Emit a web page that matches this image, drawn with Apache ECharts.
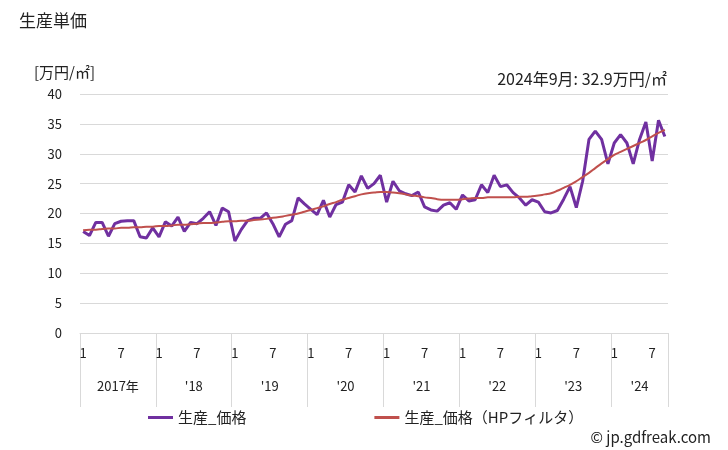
<!DOCTYPE html>
<html><head><meta charset="utf-8">
<script src="https://cdn.jsdelivr.net/npm/echarts@6/dist/echarts.min.js"></script>
<style>html,body{margin:0;padding:0;background:#fff}#c{width:728px;height:450px}</style>
</head><body><div id="c"></div>
<script>
const years = [2017, 2018, 2019, 2020, 2021, 2022, 2023, 2024];
const yearLabels = ['2017年', "'18", "'19", "'20", "'21", "'22", "'23", "'24"];
const lastMonth = 9;
const monthTickLabels = [1, 7];
const yTicks = [0, 5, 10, 15, 20, 25, 30, 35, 40];

const price = [
17.0,16.3,18.5,18.5,16.2,18.3,18.7,18.8,18.8,16.1,15.9,17.6,
16.1,18.6,17.9,19.4,17.0,18.5,18.3,19.2,20.3,18.0,20.9,20.3,
15.4,17.3,18.8,19.2,19.2,20.1,18.3,16.1,18.2,18.8,22.6,21.6,
20.7,19.8,22.2,19.4,21.5,21.9,24.8,23.6,26.3,24.2,25.0,26.4,
21.9,25.4,23.8,23.3,23.0,23.6,21.1,20.6,20.4,21.4,21.8,20.7,
23.1,22.1,22.3,24.8,23.5,26.4,24.5,24.8,23.5,22.6,21.4,22.3,
21.9,20.3,20.1,20.5,22.4,24.5,21.0,25.4,32.4,33.8,32.4,28.3,
31.8,33.2,31.8,28.3,32.4,35.3,28.8,35.6,32.9];

const priceHP = [
17.2,17.3,17.3,17.4,17.5,17.5,17.6,17.6,17.7,17.7,17.8,17.8,
17.9,17.9,18.0,18.1,18.1,18.2,18.3,18.4,18.4,18.5,18.6,18.7,
18.7,18.8,18.8,18.9,19.0,19.1,19.3,19.4,19.6,19.8,20.0,20.3,
20.6,20.9,21.2,21.6,21.9,22.3,22.6,22.9,23.2,23.4,23.5,23.6,
23.6,23.5,23.4,23.2,23.0,22.9,22.7,22.6,22.4,22.3,22.3,22.3,
22.4,22.5,22.6,22.6,22.7,22.7,22.7,22.7,22.7,22.8,22.8,22.9,
23.0,23.2,23.4,23.8,24.3,24.8,25.4,26.1,26.8,27.6,28.4,29.1,
29.8,30.3,30.8,31.3,31.8,32.3,32.9,33.5,34.0];

const categories = [];
years.forEach((y, yi) => {
  const n = (yi === years.length - 1) ? lastMonth : 12;
  for (let m = 1; m <= n; m++) categories.push(y + '-' + m);
});
const n = categories.length;
const yearStarts = years.map((y, i) => i * 12).concat([n]);
const yearCenters = years.map((y, i) => (yearStarts[i] + yearStarts[i + 1]) / 2);

const FONT = '"Noto Sans CJK JP", "Noto Sans", sans-serif';
const chart = echarts.init(document.getElementById('c'));
chart.setOption({
  animation: false,
  textStyle: { fontFamily: FONT },
  title: [
    { text: '生産単価', left: 14, top: 7, textStyle: { fontSize: 17, fontWeight: 'normal', color: '#222', fontFamily: FONT } },
    { text: '[万円/㎡]', left: 29, top: 60, textStyle: { fontSize: 15, fontWeight: 'normal', color: '#222', fontFamily: FONT } },
    { text: '2024年9月: 32.9万円/㎡', right: 56, top: 66, textStyle: { fontSize: 16, fontWeight: 'normal', color: '#222', fontFamily: FONT } },
    { text: '© jp.gdfreak.com', right: 12, top: 425, textStyle: { fontSize: 15, fontWeight: 'normal', color: '#222', fontFamily: FONT } }
  ],
  legend: {
    left: 143, top: 405, itemGap: 128, itemWidth: 25, itemHeight: 3, icon: 'rect',
    textStyle: { fontSize: 15, color: '#222', fontFamily: FONT },
    data: ['生産_価格', '生産_価格（HPフィルタ）']
  },
  grid: { left: 80, right: 60, top: 94, bottom: 117 },
  xAxis: [
    {
      type: 'category', data: categories, boundaryGap: true,
      axisLine: { lineStyle: { color: '#d9d9d9' } },
      axisTick: { show: false },
      axisLabel: {
        interval: (i, v) => monthTickLabels.includes(+v.split('-')[1]),
        formatter: v => v.split('-')[1],
        fontSize: 13, color: '#222', margin: 14, fontFamily: FONT
      },
      splitLine: { show: false }
    },
    {
      type: 'value', min: 0, max: n, position: 'bottom',
      axisLine: { show: false },
      axisTick: { show: true, customValues: yearStarts, length: 74, lineStyle: { color: '#d9d9d9' } },
      axisLabel: {
        customValues: yearCenters,
        formatter: v => yearLabels[yearCenters.indexOf(v)] || '',
        fontSize: 13, color: '#222', margin: 47, fontFamily: FONT
      },
      splitLine: { show: false }
    }
  ],
  yAxis: {
    type: 'value', min: 0, max: 40, interval: 5,
    axisLine: { show: false }, axisTick: { show: false },
    axisLabel: { fontSize: 13, color: '#222', margin: 18, fontFamily: FONT,
      customValues: yTicks },
    splitLine: { lineStyle: { color: '#d9d9d9' } }
  },
  series: [
    { name: '生産_価格', type: 'line', data: price, xAxisIndex: 0, symbol: 'none',
      lineStyle: { width: 3, color: '#7030a0' }, itemStyle: { color: '#7030a0' }, z: 3 },
    { name: '生産_価格（HPフィルタ）', type: 'line', data: priceHP, xAxisIndex: 0, symbol: 'none',
      smooth: true, lineStyle: { width: 2, color: '#c0504d' }, itemStyle: { color: '#c0504d' }, z: 4 }
  ]
});
</script></body></html>
